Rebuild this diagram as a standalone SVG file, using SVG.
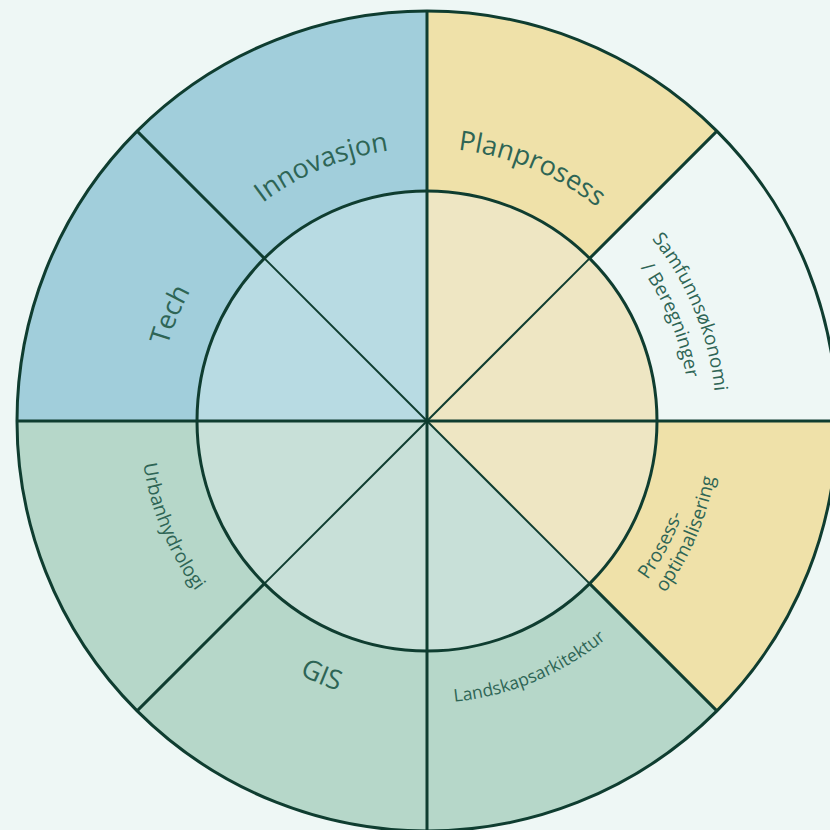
<svg xmlns="http://www.w3.org/2000/svg" xmlns:xlink="http://www.w3.org/1999/xlink" width="830" height="830" viewBox="0 0 830 830">
<style>
.ln{stroke:#0f3d30;stroke-width:3;fill:none}
.ln2{stroke:#0f3d30;stroke-width:2;fill:none}
.t{font-family:"Open Sans","DejaVu Sans",sans-serif;font-weight:500;fill:#2e6555}
.big{font-size:27px;font-weight:500}
.mid{font-size:19px}
.sm{font-size:17.5px}
</style>
<defs>
<path id="pInn" d="M184.8,295.0 A273,273 0 0 1 509.1,160.6"/>
<path id="pPlan" d="M344.9,160.6 A273,273 0 0 1 669.2,295.0"/>
<path id="pTech" d="M169.5,502.2 A270,270 0 0 1 302.3,181.5"/>
<path id="pSam1" d="M560.9,164.6 A289,289 0 0 1 702.6,508.1"/>
<path id="pSam2" d="M548.0,187.7 A263,263 0 0 1 677.8,500.1"/>
<path id="pPro1" d="M647.4,580.0 A272,272 0 0 0 686.7,339.0"/>
<path id="pPro2" d="M664.9,592.8 A293,293 0 0 0 702.3,322.0"/>
<path id="pLand" d="M342.2,690.0 A282,282 0 0 0 677.1,551.2"/>
<path id="pGIS" d="M175.1,552.1 A284,284 0 0 0 512.4,691.9"/>
<path id="pUrb" d="M153.3,334.7 A287,287 0 0 0 294.5,675.6"/>
</defs>
<rect width="830" height="830" fill="#eef7f5"/>
<g id="sectors">
<g id="seg-innovasjon"><path d="M427,421 L427,11 A410,410 0 0 0 137.1,131.1 Z" fill="#a1cedb"/><path d="M427,421 L427,191 A230,230 0 0 0 264.4,258.4 Z" fill="#b8dbe3"/></g>
<g id="seg-tech"><path d="M427,421 L137.1,131.1 A410,410 0 0 0 17,421 Z" fill="#a1cedb"/><path d="M427,421 L264.4,258.4 A230,230 0 0 0 197,421 Z" fill="#b8dbe3"/></g>
<g id="seg-planprosess"><path d="M427,421 L427,11 A410,410 0 0 1 716.9,131.1 Z" fill="#efe1a9"/><path d="M427,421 L427,191 A230,230 0 0 1 589.6,258.4 Z" fill="#eee6c3"/></g>
<g id="seg-samfunn"><path d="M427,421 L716.9,131.1 A410,410 0 0 1 837,421 Z" fill="#eef7f5"/><path d="M427,421 L589.6,258.4 A230,230 0 0 1 657,421 Z" fill="#eee6c3"/></g>
<g id="seg-prosess"><path d="M427,421 L837,421 A410,410 0 0 1 716.9,710.9 Z" fill="#efe1a9"/><path d="M427,421 L657,421 A230,230 0 0 1 589.6,583.6 Z" fill="#eee6c3"/></g>
<g id="seg-landskap"><path d="M427,421 L716.9,710.9 A410,410 0 0 1 427,831 Z" fill="#b6d7c9"/><path d="M427,421 L589.6,583.6 A230,230 0 0 1 427,651 Z" fill="#c8e0d8"/></g>
<g id="seg-gis"><path d="M427,421 L427,831 A410,410 0 0 1 137.1,710.9 Z" fill="#b6d7c9"/><path d="M427,421 L427,651 A230,230 0 0 1 264.4,583.6 Z" fill="#c8e0d8"/></g>
<g id="seg-urban"><path d="M427,421 L137.1,710.9 A410,410 0 0 1 17,421 Z" fill="#b6d7c9"/><path d="M427,421 L264.4,583.6 A230,230 0 0 1 197,421 Z" fill="#c8e0d8"/></g>
</g>
<g id="connectors">
<circle class="ln" cx="427" cy="421" r="410"/>
<circle class="ln" cx="427" cy="421" r="230"/>
<line class="ln" x1="427" y1="11" x2="427" y2="831"/>
<line class="ln" x1="17" y1="421" x2="837" y2="421"/>
<line class="ln2" x1="264.4" y1="258.4" x2="589.6" y2="583.6"/>
<line class="ln2" x1="589.6" y1="258.4" x2="264.4" y2="583.6"/>
<line class="ln" x1="137.1" y1="131.1" x2="264.4" y2="258.4"/>
<line class="ln" x1="716.9" y1="131.1" x2="589.6" y2="258.4"/>
<line class="ln" x1="716.9" y1="710.9" x2="589.6" y2="583.6"/>
<line class="ln" x1="137.1" y1="710.9" x2="264.4" y2="583.6"/>
</g>
<g id="labels">
<text class="t big"><textPath href="#pInn" startOffset="50%" text-anchor="middle">Innovasjon</textPath></text>
<text class="t big"><textPath href="#pPlan" startOffset="50%" text-anchor="middle">Planprosess</textPath></text>
<text class="t big"><textPath href="#pTech" startOffset="50%" text-anchor="middle">Tech</textPath></text>
<text class="t mid"><textPath href="#pSam1" startOffset="50%" text-anchor="middle">Samfunnsøkonomi</textPath></text>
<text class="t mid"><textPath href="#pSam2" startOffset="50%" text-anchor="middle">/ Beregninger</textPath></text>
<text class="t mid"><textPath href="#pPro1" startOffset="0">Prosess-</textPath></text>
<text class="t mid"><textPath href="#pPro2" startOffset="0">optimalisering</textPath></text>
<text class="t sm"><textPath href="#pLand" startOffset="50%" text-anchor="middle">Landskapsarkitektur</textPath></text>
<text class="t big"><textPath href="#pGIS" startOffset="50%" text-anchor="middle">GIS</textPath></text>
<text class="t mid"><textPath href="#pUrb" startOffset="50%" text-anchor="middle">Urbanhydrologi</textPath></text>
</g>
</svg>
